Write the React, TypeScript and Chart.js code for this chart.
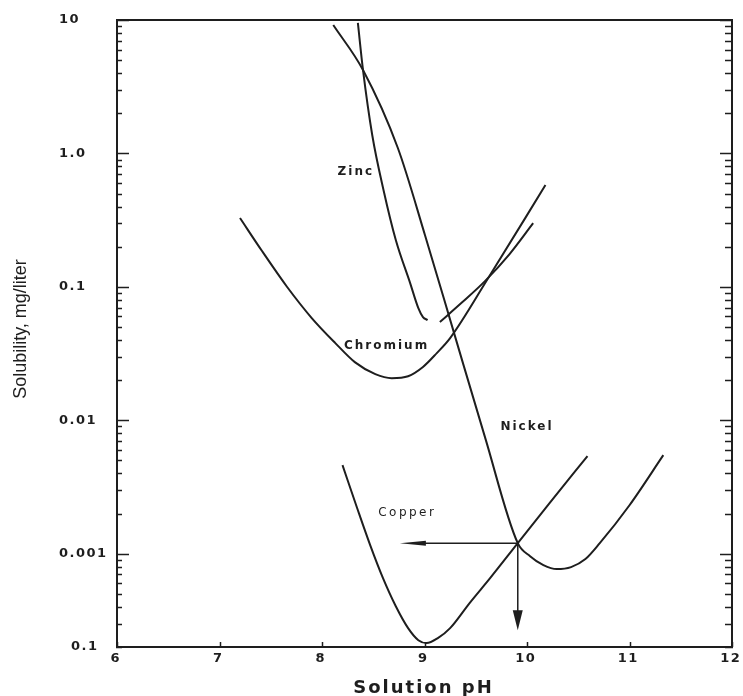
import { useEffect, useRef } from "react";
import { Chart, registerables } from "chart.js";

Chart.register(...registerables);

// ---- axis ticks ----
const xTickValues = [6, 7, 8, 9, 10, 11, 12];
const xTickLabels = ["6", "7", "8", "9", "10", "11", "12"];
const yTickValues = [0.0002, 0.001, 0.01, 0.1, 1, 10];
const yTickLabels = ["0.1", "0.001", "0.01", "0.1", "1.0", "10"];
const xTitle = "Solution pH";
const yTitle = "Solubility, mg/liter";

// ---- series (pH, solubility mg/l) ----
const zincLeftPH = [8.35, 8.40, 8.49, 8.60, 8.72, 8.86, 8.94, 8.985, 9.03];
const zincLeftSol = [9.5, 4.22, 1.374, 0.532, 0.2245, 0.1067, 0.0693, 0.0594, 0.0564];
const zincRightPH = [9.15, 9.37, 9.59, 9.83, 10.06];
const zincRightSol = [0.0545, 0.0769, 0.1104, 0.176, 0.30];

const chromiumPH = [7.20, 7.415, 7.66, 7.90, 8.13, 8.32, 8.52, 8.68, 8.84, 8.985, 9.12, 9.25, 9.61, 10.18];
const chromiumSol = [0.328, 0.1855, 0.0998, 0.0584, 0.0379, 0.0273, 0.0222, 0.0207, 0.0214, 0.0251, 0.0319, 0.0413, 0.1125, 0.579];

const nickelPH = [8.11, 8.40, 8.74, 9.005, 9.28, 9.59, 9.91, 10.03, 10.16, 10.29, 10.43, 10.57, 10.71, 11.0, 11.33];
const nickelSol = [9.17, 4.22, 1.098, 0.244, 0.0474, 0.00748, 0.0012, 0.000959, 0.000822, 0.000767, 0.000794, 0.000912, 0.0012, 0.00231, 0.00548];

const copperPH = [8.20, 8.34, 8.47, 8.595, 8.72, 8.84, 8.94, 9.02, 9.13, 9.25, 9.44, 9.64, 9.91, 10.22, 10.59];
const copperSol = [0.00461, 0.00223, 0.00116, 0.000656, 0.000404, 0.000277, 0.000225, 0.000214, 0.000233, 0.000277, 0.000427, 0.000656, 0.0012, 0.00239, 0.0054];

// ---- arrows from the Nickel/Copper crossing ----
const arrowStartPH = 9.91;
const arrowLevel = 0.0012;
const arrowLeftPH = 8.76;
const arrowBottomSol = 0.000267;

// ---- curve labels ----
const curveLabels = ["Zinc", "Chromium", "Nickel", "Copper"];
const curveLabelPH = [8.32, 8.62, 9.99, 8.82];
const curveLabelSol = [0.726, 0.036, 0.0089, 0.00201];
const curveLabelBold = [true, true, true, false];

const INK = "#1e1e1e";

function pts(xs: number[], ys: number[]) {
  return xs.map((x, i) => ({ x, y: ys[i] }));
}

function drawText(
  ctx: CanvasRenderingContext2D,
  s: string,
  x: number,
  y: number,
  font: string,
  align: CanvasTextAlign,
  spacing: number
) {
  ctx.font = font;
  (ctx as any).letterSpacing = spacing + "px";
  ctx.textAlign = align;
  ctx.textBaseline = "middle";
  let dx = 0;
  if (align === "center") dx = spacing / 2;
  if (align === "right") dx = spacing;
  ctx.fillText(s, x + dx, y);
}

const framePlugin = {
  id: "frameAndText",
  afterDatasetsDraw(chart: any) {
    const ctx: CanvasRenderingContext2D = chart.ctx;
    const { left, right, top, bottom } = chart.chartArea;
    const xs = chart.scales.x;
    const ys = chart.scales.y;
    ctx.save();
    ctx.strokeStyle = INK;
    ctx.fillStyle = INK;

    // frame
    ctx.lineWidth = 2;
    ctx.strokeRect(left, top, right - left, bottom - top);

    // log ticks on left and right axes
    ctx.lineWidth = 1.5;
    for (let d = -4; d <= 1; d++) {
      for (let m = 1; m <= 9; m++) {
        const v = m * Math.pow(10, d);
        if (v < ys.min * 0.999 || v > ys.max * 1.001) continue;
        const py = Math.round(ys.getPixelForValue(v)) + 0.5;
        const major = m === 1;
        ctx.beginPath();
        ctx.moveTo(left - 1, py);
        ctx.lineTo(left + (major ? 12 : 5), py);
        ctx.moveTo(right + 1, py);
        ctx.lineTo(right - (major ? 12 : 7), py);
        ctx.stroke();
      }
    }
    // x ticks
    xTickValues.forEach((v) => {
      const px = Math.round(xs.getPixelForValue(v)) + 0.5;
      ctx.beginPath();
      ctx.moveTo(px, bottom);
      ctx.lineTo(px, bottom - 5);
      ctx.stroke();
    });

    // y tick labels
    const tickFont = "bold 13px 'DejaVu Sans', sans-serif";
    yTickValues.forEach((v, i) => {
      const py = ys.getPixelForValue(v);
      if (i === 0) {
        drawText(ctx, yTickLabels[i], left - 20, py, tickFont, "right", 1.5);
      } else {
        drawText(ctx, yTickLabels[i], left - 58, py, tickFont, "left", 1.5);
      }
    });
    // x tick labels
    xTickValues.forEach((v, i) => {
      const px = xs.getPixelForValue(v);
      drawText(ctx, xTickLabels[i], px - 2, bottom + 12, "bold 13px 'DejaVu Sans', sans-serif", "center", 1.5);
    });

    // axis titles
    ctx.textBaseline = "alphabetic";
    ctx.font = "bold 18px 'DejaVu Sans', sans-serif";
    (ctx as any).letterSpacing = "2px";
    ctx.textAlign = "center";
    ctx.fillText(xTitle, (left + right) / 2 - 1, 693);

    ctx.save();
    ctx.translate(21, 329);
    ctx.rotate(-Math.PI / 2);
    drawText(ctx, yTitle, 0, 0, "18px 'Liberation Sans', Arial, sans-serif", "center", 0);
    ctx.restore();

    // curve labels
    curveLabels.forEach((s, i) => {
      const px = xs.getPixelForValue(curveLabelPH[i]);
      const py = ys.getPixelForValue(curveLabelSol[i]);
      const font = curveLabelBold[i]
        ? "bold 12px 'DejaVu Sans', sans-serif"
        : "12px 'DejaVu Sans', sans-serif";
      drawText(ctx, s, px, py, font, "center", curveLabelBold[i] ? 2 : 2.5);
    });

    // arrowheads
    const ax = xs.getPixelForValue(arrowLeftPH);
    const ay = ys.getPixelForValue(arrowLevel);
    ctx.beginPath();
    ctx.moveTo(ax, ay);
    ctx.lineTo(ax + 26, ay - 2.5);
    ctx.lineTo(ax + 26, ay + 2.5);
    ctx.closePath();
    ctx.fill();

    const bx = xs.getPixelForValue(arrowStartPH);
    const by = ys.getPixelForValue(arrowBottomSol);
    ctx.beginPath();
    ctx.moveTo(bx, by);
    ctx.lineTo(bx - 5, by - 20);
    ctx.lineTo(bx + 5, by - 20);
    ctx.closePath();
    ctx.fill();

    ctx.restore();
  },
};

export default function App() {
  const ref = useRef<HTMLCanvasElement | null>(null);

  useEffect(() => {
    if (!ref.current) return;
    const curve = (data: { x: number; y: number }[]) => ({
      data,
      borderColor: INK,
      borderWidth: 2,
      pointRadius: 0,
      fill: false,
      cubicInterpolationMode: "monotone" as const,
    });
    const arrow = (data: { x: number; y: number }[]) => ({
      data,
      borderColor: INK,
      borderWidth: 1.5,
      pointRadius: 0,
      fill: false,
      tension: 0,
    });
    const chart = new Chart(ref.current, {
      type: "line",
      data: {
        datasets: [
          { label: "Zinc", ...curve(pts(zincLeftPH, zincLeftSol)) },
          { label: "Zinc ", ...curve(pts(zincRightPH, zincRightSol)) },
          { label: "Chromium", ...curve(pts(chromiumPH, chromiumSol)) },
          { label: "Nickel", ...curve(pts(nickelPH, nickelSol)) },
          { label: "Copper", ...curve(pts(copperPH, copperSol)) },
          {
            label: "arrowH",
            ...arrow([
              { x: arrowStartPH, y: arrowLevel },
              { x: arrowLeftPH + 0.2, y: arrowLevel },
            ]),
          },
          {
            label: "arrowV",
            ...arrow([
              { x: arrowStartPH, y: arrowLevel },
              { x: arrowStartPH, y: arrowBottomSol * 1.3 },
            ]),
          },
        ] as any,
      },
      options: {
        animation: false,
        responsive: false,
        devicePixelRatio: 1,
        events: [],
        layout: { padding: { left: 117, top: 20, right: 11, bottom: 49 } },
        plugins: { legend: { display: false }, tooltip: { enabled: false } },
        scales: {
          x: { type: "linear", min: 6, max: 12, display: false },
          y: { type: "logarithmic", min: 0.0002, max: 10, display: false },
        },
      },
      plugins: [framePlugin],
    });
    return () => chart.destroy();
  }, []);

  return (
    <div style={{ position: "fixed", left: 0, top: 0, width: 743, height: 696, background: "#fff" }}>
      <canvas ref={ref} width={743} height={696} style={{ display: "block" }} />
    </div>
  );
}
